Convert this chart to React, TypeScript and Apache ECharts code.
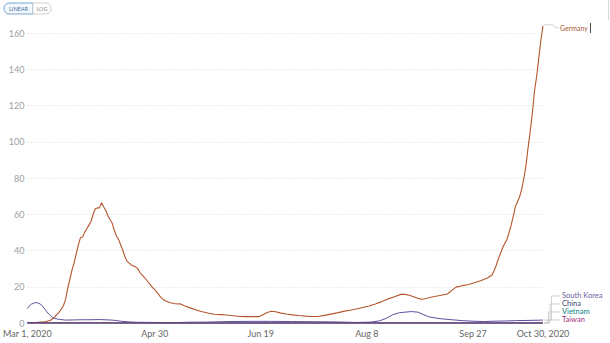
import React, { useEffect, useRef } from "react";
import * as echarts from "echarts";

// x positions are days since Mar 1, 2020
const tickDays = [0, 60, 110, 160, 210, 243];
const tickLabels = ["Mar 1, 2020", "Apr 30", "Jun 19", "Aug 8", "Sep 27", "Oct 30, 2020"];

const countries = ["Germany", "South Korea", "China", "Vietnam", "Taiwan"];
const colors = ["#b4552c", "#5c4f9e", "#2e3566", "#00847e", "#a2307e"];
const labelColors = ["#a85a36", "#6a5fa0", "#3a3f66", "#00847e", "#a2307e"];

const germanyDays = [0, 4, 8, 11, 13, 15, 17, 18, 19, 20, 21, 22, 23, 24, 25, 26, 27, 28, 29, 30, 31, 32, 33, 34, 35, 36, 37, 38, 39, 40, 41, 42, 43, 44, 45, 46, 47, 48, 49, 50, 51, 52, 53, 54, 55, 56, 57, 58, 59, 60, 61, 62, 63, 64, 65, 67, 69, 71, 72, 74, 77, 80, 82, 85, 88, 91, 94, 97, 100, 103, 106, 109, 111, 113, 115, 117, 119, 122, 125, 128, 131, 134, 137, 140, 143, 146, 149, 152, 155, 158, 161, 164, 167, 170, 173, 176, 178, 180, 182, 184, 186, 188, 190, 192, 195, 198, 200, 202, 205, 208, 211, 214, 217, 219, 220, 221, 222, 223, 224, 225, 226, 227, 228, 229, 230, 231, 232, 233, 234, 235, 236, 237, 238, 239, 240, 241, 242, 243];
const germanyValues = [0.1, 0.2, 0.6, 1.5, 3.5, 6, 9.5, 13, 19, 24, 29, 33, 38, 43, 47, 47.5, 50, 52, 54, 56, 60, 63, 63.5, 63.5, 66.4, 64, 62, 59, 57, 55, 51, 48, 46, 43, 40, 36.5, 34, 33, 32, 31.5, 31, 30, 28, 26.5, 25.3, 24, 22.5, 21, 19.5, 18.5, 17, 15.5, 14, 13, 12.3, 11.3, 10.8, 10.5, 10.6, 9.5, 8.2, 7, 6.3, 5.5, 4.8, 4.6, 4.4, 4, 3.6, 3.5, 3.5, 3.5, 4.5, 5.8, 6.5, 6.2, 5.6, 5, 4.5, 4.1, 3.8, 3.6, 3.6, 4.2, 4.9, 5.6, 6.4, 7, 7.7, 8.6, 9.4, 10.5, 11.8, 13.3, 14.5, 15.8, 15.8, 15.3, 14.5, 13.6, 13.1, 13.5, 14.2, 14.6, 15.3, 16, 18, 19.8, 20.6, 21.2, 22.3, 23.5, 25, 26.5, 29, 32, 35.5, 38.5, 41.5, 44, 46, 50, 54, 59, 64.2, 67, 69.7, 74, 80, 87, 97, 106, 116, 128, 136, 146, 156, 164];

const koreaDays = [0, 1, 2, 3, 4, 5, 6, 7, 8, 9, 10, 11, 12, 13, 15, 18, 22, 26, 30, 34, 38, 41, 44, 48, 52, 60, 70, 75, 85, 95, 105, 115, 125, 135, 145, 155, 162, 166, 169, 172, 175, 178, 181, 184, 186, 189, 192, 196, 200, 205, 210, 215, 220, 225, 230, 235, 243];
const koreaValues = [8, 9.5, 10.5, 11, 11.3, 11, 10.5, 9.5, 8, 6.5, 5, 4, 3, 2.5, 2, 1.6, 1.7, 1.8, 1.8, 1.9, 1.7, 1.5, 1.0, 0.6, 0.4, 0.3, 0.2, 0.4, 0.5, 0.8, 0.9, 0.9, 0.8, 0.7, 0.6, 0.3, 0.5, 1.2, 2.5, 4.5, 5.6, 6.0, 6.3, 6.0, 5.0, 3.5, 2.8, 2.2, 1.8, 1.3, 1.0, 0.8, 1.0, 1.1, 1.3, 1.4, 1.6];

const chinaDays = [0, 5, 10, 20, 30, 40, 60, 100, 140, 180, 220, 243];
const chinaValues = [0.3, 0.12, 0.05, 0.03, 0.04, 0.05, 0.01, 0.01, 0.05, 0.02, 0.01, 0.02];

const vietnamDays = [0, 20, 30, 60, 120, 145, 155, 170, 200, 243];
const vietnamValues = [0, 0.02, 0.03, 0.01, 0, 0.02, 0.04, 0.01, 0, 0];

const taiwanDays = [0, 20, 30, 40, 60, 100, 160, 200, 243];
const taiwanValues = [0, 0.05, 0.08, 0.05, 0.01, 0, 0.01, 0.01, 0.02];

const seriesDays = [germanyDays, koreaDays, chinaDays, vietnamDays, taiwanDays];
const seriesValues = [germanyValues, koreaValues, chinaValues, vietnamValues, taiwanValues];

const FONT = "Lato, 'Noto Sans', sans-serif";

export default function App() {
  const ref = useRef<HTMLDivElement>(null);
  useEffect(() => {
    if (!ref.current) return;
    const chart = echarts.init(ref.current, null, { renderer: "svg" });
    const series = countries.map((name, i) => ({
      name,
      type: "line",
      data: seriesDays[i].map((d, k) => [d, seriesValues[i][k]]),
      showSymbol: false,
      clip: false,
      lineStyle: { color: colors[i], width: i === 0 ? 1.1 : 1 },
      itemStyle: { color: colors[i] },
      z: 2 + i,
    }));
    chart.setOption({
      animation: false,
      grid: { left: 22, right: 67, top: 33, bottom: 20 },
      xAxis: {
        type: "value",
        min: 0,
        max: 243,
        axisLine: { show: false },
        axisTick: { show: false },
        splitLine: { show: false },
        axisLabel: {
          customValues: tickDays,
          formatter: (v: number) => tickLabels[tickDays.indexOf(v)] ?? "",
          color: "#666",
          fontSize: 9,
          fontFamily: FONT,
          margin: 6,
        },
      },
      yAxis: {
        type: "value",
        min: 0,
        max: 160,
        interval: 20,
        axisLine: { show: false },
        axisTick: { show: false },
        axisLabel: { color: "#a0a0a0", fontSize: 9, fontFamily: FONT, margin: 3 },
        splitLine: { lineStyle: { color: "#dcdcdc", type: [1, 2], width: 1 } },
      },
      series,
    });

    // end labels with connectors, positioned from the data
    const graphics: any[] = [];
    const ends = countries.map((_, i) => {
      const d = seriesDays[i];
      const v = seriesValues[i];
      return chart.convertToPixel({ gridIndex: 0 }, [d[d.length - 1], v[v.length - 1]]) as number[];
    });
    const gEnd = ends[0];
    const gLabelY = gEnd[1] + 2;
    graphics.push({
      type: "polyline",
      shape: { points: [[gEnd[0] + 1, gEnd[1] - 1], [gEnd[0] + 9, gEnd[1] - 1], [gEnd[0] + 13, gLabelY], [gEnd[0] + 16, gLabelY]] },
      style: { stroke: "#c8c8c8", fill: null, lineWidth: 0.8 },
      silent: true,
    });
    graphics.push({
      type: "text",
      x: gEnd[0] + 17,
      y: gLabelY,
      style: { text: countries[0], fill: labelColors[0], font: `7px ${FONT}`, verticalAlign: "middle" },
    });
    const baseY = ends[4][1];
    for (let i = 1; i < 5; i++) {
      const ly = baseY - 3 - (4 - i) * 8;
      const e = ends[i];
      const vx = e[0] + 4 + (4 - i) * 1.5;
      graphics.push({
        type: "polyline",
        shape: { points: [[e[0] + 1, e[1]], [vx, e[1]], [vx, ly], [e[0] + 17, ly]] },
        style: { stroke: "#c8c8c8", fill: null, lineWidth: 0.8 },
        silent: true,
      });
      graphics.push({
        type: "text",
        x: e[0] + 19,
        y: ly,
        style: { text: countries[i], fill: labelColors[i], font: `7.5px ${FONT}`, verticalAlign: "middle" },
      });
    }
    // LINEAR / LOG toggle
    graphics.push({
      type: "rect",
      shape: { x: 4, y: 3, width: 29, height: 11, r: [5, 0, 0, 5] },
      style: { fill: "#f4f8fc", stroke: "#79a7d6", lineWidth: 1 },
    });
    graphics.push({
      type: "text",
      x: 18.5,
      y: 8.5,
      style: { text: "LINEAR", fill: "#3a6ca3", font: `5.5px ${FONT}`, align: "center", verticalAlign: "middle" },
    });
    graphics.push({
      type: "rect",
      shape: { x: 33, y: 3, width: 18, height: 11, r: [0, 5, 5, 0] },
      style: { fill: "#fff", stroke: "#cfcfcf", lineWidth: 1 },
    });
    graphics.push({
      type: "text",
      x: 42,
      y: 8.5,
      style: { text: "LOG", fill: "#8a8a8a", font: `5.5px ${FONT}`, align: "center", verticalAlign: "middle" },
    });
    graphics.push({
      type: "line",
      shape: { x1: 590.5, y1: 23, x2: 590.5, y2: 33 },
      style: { stroke: "#444", lineWidth: 1 },
    });
    graphics.push({
      type: "line",
      shape: { x1: 608.5, y1: 0, x2: 608.5, y2: 20 },
      style: { stroke: "#d8d8d8", lineWidth: 1 },
    });
    chart.setOption({ graphic: graphics });
    return () => chart.dispose();
  }, []);
  return (
    <div
      ref={ref}
      style={{ position: "fixed", left: 0, top: 0, width: 610, height: 343, background: "#fff" }}
    />
  );
}
